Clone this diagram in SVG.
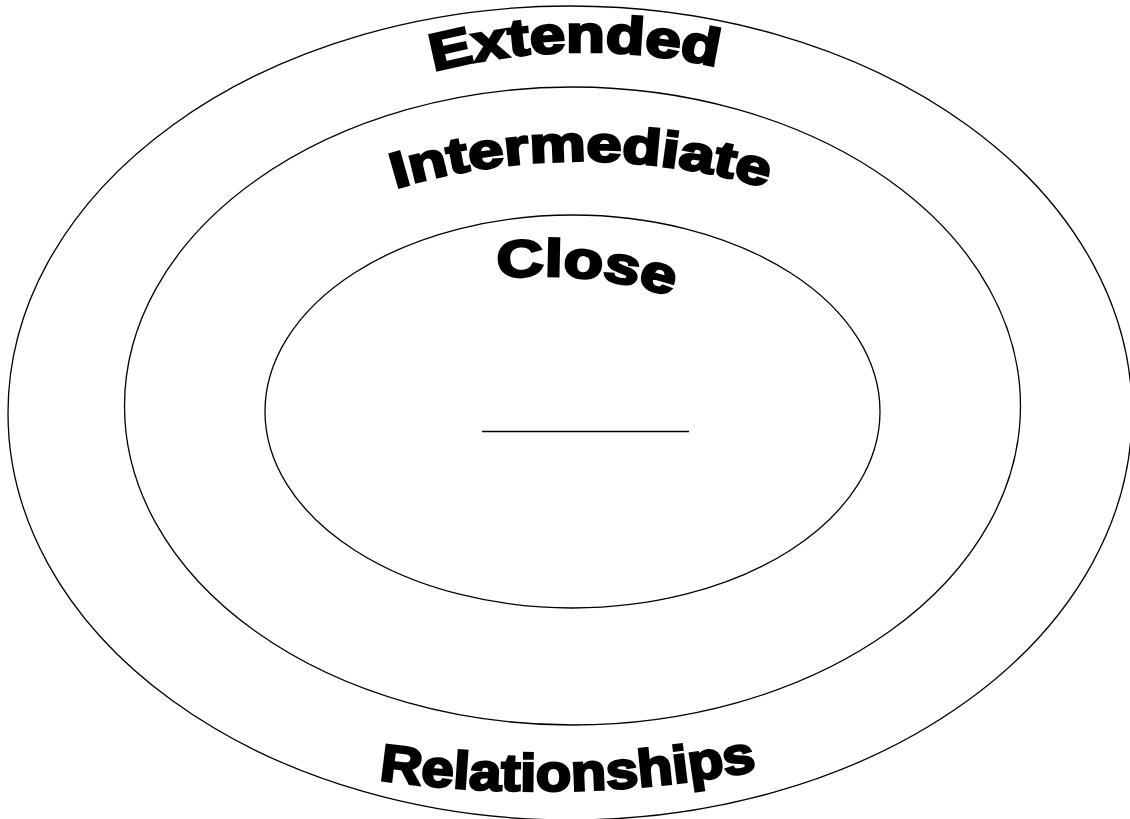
<svg xmlns="http://www.w3.org/2000/svg" width="1130" height="819" viewBox="0 0 1130 819">
<style>
.ring{fill:none;stroke:#000;stroke-width:1.3}
.lbl{font-family:"Liberation Sans",Arial,sans-serif;font-weight:700;fill:#000;stroke:#000;stroke-width:2.6;stroke-linejoin:miter;font-variant-ligatures:none}
</style>
<defs>
<path id="pExt" d="M 420 75.1 A 600 600 0 0 1 740 72.4"/>
<path id="pInt" d="M 385 191.7 A 647 647 0 0 1 785 193.7"/>
<path id="pClo" d="M 480 281.3 A 400 400 0 0 1 700 307.3"/>
<path id="pRel" d="M 360 776.95 A 1160 1160 0 0 0 780 765.9"/>
</defs>
<rect width="1130" height="819" fill="#fff"/>
<g id="extended">
<ellipse class="ring" cx="570" cy="413" rx="562" ry="407"/>
<text class="lbl" font-size="52"><textPath href="#pExt" startOffset="14" textLength="286" lengthAdjust="spacingAndGlyphs">Extended</textPath></text>
<text class="lbl" font-size="52"><textPath href="#pRel" startOffset="19" textLength="380" lengthAdjust="spacingAndGlyphs">Relationships</textPath></text>
</g>
<g id="intermediate">
<ellipse class="ring" cx="572.5" cy="406" rx="448" ry="319"/>
<text class="lbl" font-size="50"><textPath href="#pInt" startOffset="11" textLength="376" lengthAdjust="spacingAndGlyphs">Intermediate</textPath></text>
</g>
<g id="close">
<ellipse class="ring" cx="572.5" cy="411.5" rx="307.5" ry="196.5"/>
<text class="lbl" font-size="52"><textPath href="#pClo" startOffset="18" textLength="176" lengthAdjust="spacingAndGlyphs">Close</textPath></text>
<line x1="482" y1="431.5" x2="689" y2="431.5" stroke="#000" stroke-width="1.5"/>
</g>
</svg>
